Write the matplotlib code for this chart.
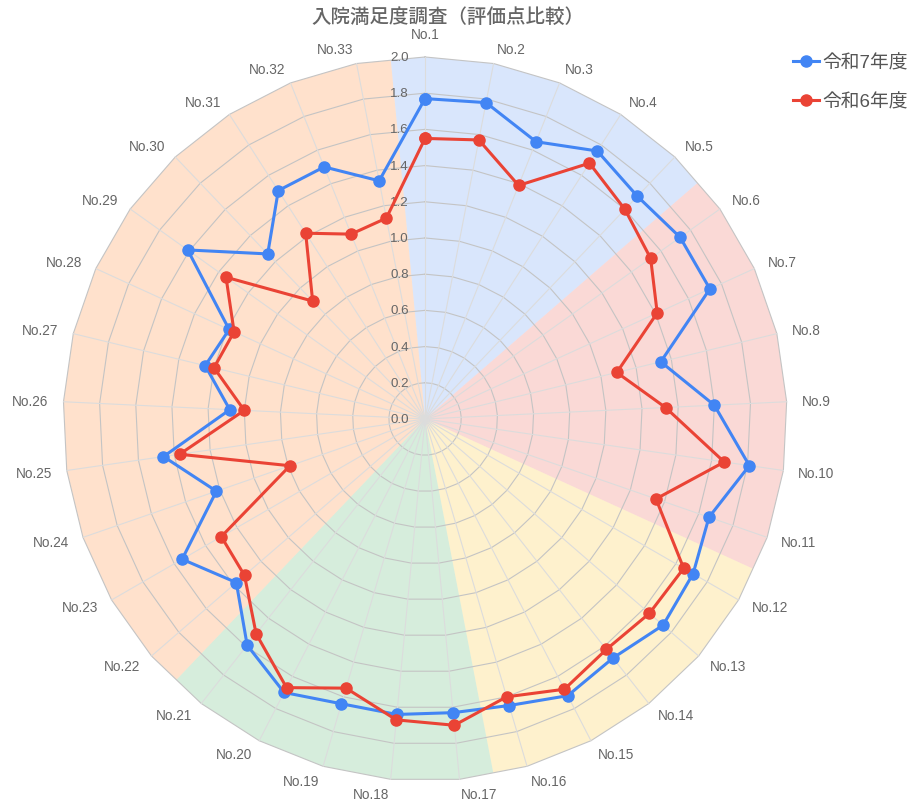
import numpy as np
import matplotlib
matplotlib.use('Agg')
import matplotlib.pyplot as plt

plt.rcParams['font.family'] = ['Liberation Sans', 'Noto Sans CJK JP', 'DejaVu Sans']

# data
categories = ['No.%d' % i for i in range(1, 34)]
r7_scores = [1.77, 1.78, 1.65, 1.76, 1.70, 1.73, 1.73, 1.34, 1.60, 1.81, 1.66,
             1.71, 1.74, 1.68, 1.72, 1.65, 1.63, 1.64, 1.64, 1.70, 1.59, 1.38,
             1.55, 1.22, 1.46, 1.08, 1.25, 1.19, 1.61, 1.26, 1.50, 1.50, 1.34]
r6_scores = [1.55, 1.57, 1.39, 1.68, 1.60, 1.53, 1.41, 1.09, 1.33, 1.67, 1.35,
             1.65, 1.64, 1.62, 1.68, 1.60, 1.70, 1.67, 1.55, 1.67, 1.51, 1.32,
             1.30, 0.79, 1.37, 1.00, 1.20, 1.16, 1.35, 0.90, 1.22, 1.10, 1.13]
series_names = ['令和7年度', '令和6年度']
# background groups: (first item, last item), 1-based
groups = [(1, 5), (6, 11), (12, 16), (17, 21), (22, 33)]
group_colors = ['#4285F4', '#EA4335', '#FBBC05', '#34A853', '#FF6D01']
title = '入院満足度調査（評価点比較）'

rmax = 2.0
ticks = np.round(np.arange(0, rmax + 0.01, 0.2), 1)

n = len(categories)
theta = 2 * np.pi * np.arange(n) / n
half = np.pi / n

fig = plt.figure(figsize=(9.15, 8.03), dpi=100)
ax = fig.add_axes([0.0689, 0.0262, 0.7913, 0.9016], projection='polar')
ax.set_theta_zero_location('N')
ax.set_theta_direction(-1)
ax.set_ylim(0, rmax)
ax.set_xticks([])
ax.set_yticks([])
ax.grid(False)
ax.spines['polar'].set_visible(False)
ax.patch.set_visible(False)

# coloured sectors
for (a, b), col in zip(groups, group_colors):
    th = [theta[a - 1] - half] + list(theta[a - 1:b]) + [theta[b - 1] + half, 0]
    rr = [rmax * np.cos(half)] + [rmax] * (b - a + 1) + [rmax * np.cos(half), 0]
    ax.fill(th, rr, color=col, alpha=0.2, lw=0, zorder=0, clip_on=False)

# polygon grid + spokes
th_closed = np.append(theta, theta[0])
for t in ticks[1:]:
    ax.plot(th_closed, [t] * (n + 1), color='#c4c4c4', lw=0.8, zorder=1, clip_on=False)
for t in theta:
    ax.plot([t, t], [0, rmax], color='#dcdcdc', lw=0.8, zorder=1, clip_on=False)

# tick labels
for t in ticks:
    ax.annotate('%.1f' % t, (0, t), xytext=(-16, 0), textcoords='offset pixels',
                ha='right', va='center', fontsize=9.6, color='#666666', zorder=2)

# category labels
for t, lab in zip(theta, categories):
    if t == 0:
        ax.text(t, 2.127, lab, ha='center', va='center', fontsize=9.8, color='#666666')
    else:
        ha = 'left' if t < np.pi else 'right'
        ax.text(t, 2.083, lab, ha=ha, va='center', fontsize=9.8, color='#666666')

# series
l7, = ax.plot(th_closed, r7_scores + r7_scores[:1], color='#4285F4', lw=2.2,
              marker='o', ms=8, zorder=5, label=series_names[0])
l6, = ax.plot(th_closed, r6_scores + r6_scores[:1], color='#EA4335', lw=2.2,
              marker='o', ms=8, zorder=6, label=series_names[1])

fig.text(0.489, 1 - 18 / 803, title, ha='center', va='center', fontsize=14,
         color='#666666', fontweight='medium')

fig.legend(handles=[l7, l6], loc='upper left', bbox_to_anchor=(0.8667, 0.931),
           frameon=False, fontsize=13.5, handlelength=1.4, handletextpad=0.15,
           labelspacing=1.12, borderpad=0, borderaxespad=0, labelcolor='#555555')

fig.savefig('out.png', dpi=100)
